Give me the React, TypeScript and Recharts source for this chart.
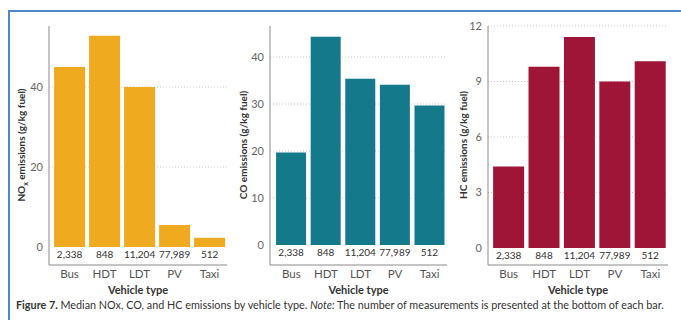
import React from "react";
import {
  BarChart,
  Bar,
  XAxis,
  YAxis,
  CartesianGrid,
  LabelList,
} from "recharts";

const CATEGORIES = ["Bus", "HDT", "LDT", "PV", "Taxi"];
const COUNTS = ["2,338", "848", "11,204", "77,989", "512"];
const NOX = [45, 52.8, 40, 5.5, 2.3];
const CO = [19.7, 44.3, 35.4, 34.1, 29.7];
const HC = [4.4, 9.8, 11.4, 9.0, 10.1];

const NOX_TICKS = [0, 20, 40];
const CO_TICKS = [0, 10, 20, 30, 40];
const HC_TICKS = [0, 3, 6, 9, 12];

const FONT = "Lato, 'Open Sans', sans-serif";

interface PanelProps {
  left: number;
  width: number;
  values: number[];
  color: string;
  domain: [number, number];
  ticks: number[];
  padLeft: number;
  marginRight: number;
  label: React.ReactNode;
  labelX: number;
}

function CountLabel(p: any) {
  const x = Number(p.x) + Number(p.width) / 2;
  const y = Number(p.y) + Number(p.height) + 7;
  return (
    <text
      x={x}
      y={y}
      textAnchor="middle"
      dominantBaseline="central"
      fontSize={10}
      fill="#333"
      fontFamily={FONT}
    >
      {p.value}
    </text>
  );
}

function Panel(props: PanelProps) {
  const data = CATEGORIES.map((c, i) => ({
    name: c,
    value: props.values[i],
    n: COUNTS[i],
  }));
  return (
    <div style={{ position: "absolute", left: props.left, top: 0 }}>
      <BarChart
        width={props.width}
        height={300}
        data={data}
        margin={{ top: 26, right: props.marginRight, left: 0, bottom: 0 }}
        barCategoryGap="6%"
      >
        <CartesianGrid
          vertical={false}
          horizontalValues={props.ticks.filter((t) => t !== 0)}
          stroke="#c8c8c8"
          strokeDasharray="1 2"
        />
        <XAxis
          dataKey="name"
          height={35}
          padding={{ left: props.padLeft, right: 0 }}
          tickLine={false}
          tickSize={3}
          tickMargin={2}
          axisLine={{ stroke: "#8a8a8a" }}
          tick={{ fill: "#555", fontSize: 11.5, fontFamily: FONT }}
          label={{
            value: "Vehicle type",
            position: "insideBottom",
            offset: 6,
            fill: "#333",
            fontSize: 11,
            fontWeight: 700,
            fontFamily: FONT,
          }}
        />
        <YAxis
          width={49}
          domain={props.domain}
          ticks={props.ticks}
          allowDataOverflow
          tickLine={false}
          tickSize={4}
          tickMargin={2}
          axisLine={{ stroke: "#8a8a8a" }}
          tick={{ fill: "#666", fontSize: 11, fontFamily: FONT }}
        />
        <Bar dataKey="value" fill={props.color} isAnimationActive={false}>
          <LabelList dataKey="n" content={CountLabel} />
        </Bar>
      </BarChart>
      <div
        style={{
          position: "absolute",
          left: props.labelX,
          top: 145,
          transform: "translate(-50%, -50%) rotate(-90deg)",
          whiteSpace: "nowrap",
          fontFamily: FONT,
          fontWeight: 700,
          fontSize: 10,
          color: "#333",
        }}
      >
        {props.label}
      </div>
    </div>
  );
}

export default function App() {
  return (
    <div
      style={{
        position: "fixed",
        left: 0,
        top: 0,
        width: 681,
        height: 320,
        background: "#fff",
        overflow: "hidden",
        fontFamily: FONT,
      }}
    >
      <div
        style={{
          position: "absolute",
          left: 8,
          top: 10,
          width: 700,
          height: 330,
          borderTop: "2px solid #4f88c9",
          borderLeft: "2px solid #4f88c9",
        }}
      />
      <Panel
        left={0}
        width={230}
        values={NOX}
        color="#f0aa1f"
        domain={[-4.5, 55.25]}
        ticks={NOX_TICKS}
        padLeft={3}
        marginRight={3}
        labelX={22}
        label={
          <span>
            NO<sub style={{ fontSize: 7 }}>x</sub> emissions (g/kg fuel)
          </span>
        }
      />
      <Panel
        left={221}
        width={230}
        values={CO}
        color="#13798b"
        domain={[-4.24, 46.6]}
        ticks={CO_TICKS}
        padLeft={4}
        marginRight={4}
        labelX={22}
        label={<span>CO emissions (g/kg fuel)</span>}
      />
      <Panel
        left={439}
        width={235}
        values={HC}
        color="#9e1538"
        domain={[-0.92, 12]}
        ticks={HC_TICKS}
        padLeft={3}
        marginRight={6}
        labelX={24}
        label={<span>HC emissions (g/kg fuel)</span>}
      />
      <div
        style={{
          position: "absolute",
          left: 16,
          top: 298,
          fontSize: 10.8,
          color: "#333",
          whiteSpace: "nowrap",
          fontFamily: FONT,
        }}
      >
        <b>Figure 7.</b> Median NOx, CO, and HC emissions by vehicle type.{" "}
        <i>Note:</i> The number of measurements is presented at the bottom of
        each bar.
      </div>
    </div>
  );
}
